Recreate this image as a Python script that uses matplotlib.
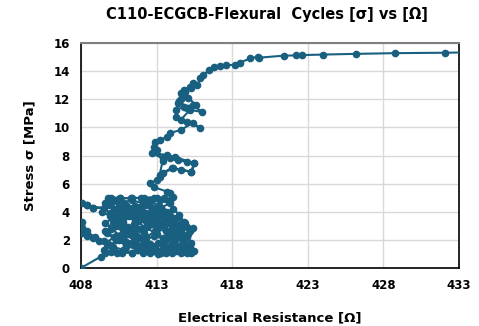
import matplotlib.pyplot as plt

# values, in drawing order
# low-stress cycles (0-5 MPa)
cluster_x = [
    408.0, 409.3, 409.6, 410.2, 409.8, 409.2, 408.8, 408.4, 408.1, 408.05,
    408.1, 408.4, 408.9, 409.5, 410.1, 410.8, 411.4, 412.0, 412.6, 413.3,
    414.0, 414.6, 415.3, 414.8, 414.2, 413.6, 413.0, 412.3, 411.6, 410.9,
    410.2, 409.6, 410.0, 410.6, 411.3, 412.0, 412.8, 413.5, 413.8, 414.1,
    414.5, 414.8, 415.0, 415.4, 415.1, 414.6, 414.0, 413.4, 412.8, 412.1,
    411.4, 410.7, 410.0, 409.5, 409.7, 410.3, 410.9, 411.5, 412.1, 412.7,
    413.3, 413.9, 413.2, 412.4, 411.6, 410.8, 410.6, 408.8, 408.4, 408.05,
    408.4, 408.8, 410.6, 410.3, 410.9, 411.5, 412.1, 412.7, 413.4, 414.0,
    414.5, 414.9, 414.4, 413.8, 413.1, 412.5, 411.9, 411.2, 410.5, 409.9,
    410.4, 411.0, 411.6, 412.3, 412.9, 413.5, 414.1, 414.7, 414.3, 413.7,
    413.1, 412.4, 411.8, 411.1, 410.6, 410.0, 409.6, 410.2, 410.8, 411.4,
    412.0, 412.6, 413.2, 413.7, 414.2, 414.6, 415.0, 415.3, 414.9, 414.3,
    413.6, 412.9, 412.3, 411.7, 411.1, 410.5, 409.9, 409.5, 410.0, 410.7,
    411.4, 412.1, 412.7, 413.2, 413.6, 414.0, 414.4, 414.8, 415.2, 415.5,
    415.0, 414.4, 413.9, 413.4, 412.9, 412.3, 411.7, 411.0, 410.4, 409.9,
    410.5, 411.1, 411.8, 412.4, 413.0, 413.6, 414.2, 413.8, 413.2, 412.6,
    412.0, 411.3, 410.7, 410.1, 409.7, 410.3, 411.0, 411.7, 412.2, 412.8,
    413.4, 414.0, 414.6, 414.2, 413.6, 413.0, 412.5, 411.9, 411.2, 410.6,
    410.9, 411.6, 412.3, 413.0, 413.7, 414.3, 413.9, 413.4, 412.8, 412.2,
    411.5, 410.8, 410.3, 410.9, 411.5, 412.2, 412.9, 413.5, 414.1, 413.7,
    413.0, 412.2, 411.4, 410.6, 409.8, 409.4, 409.9, 410.5, 411.2, 411.9,
    412.6, 413.3, 414.0, 414.7, 415.2, 414.6, 413.9, 413.1, 412.4, 411.7,
    410.9, 410.2, 409.6, 410.1, 410.8, 411.5, 412.2, 412.9, 413.5, 413.0,
    413.1, 412.6,
]
cluster_y = [
    0.0, 0.8, 1.1, 1.3, 1.6, 1.9, 2.1, 2.3, 2.5, 2.8,
    3.3, 2.6, 2.2, 1.9, 1.5, 1.3, 1.1, 1.4, 1.1, 1.05,
    1.1, 1.05, 1.05, 1.3, 1.6, 2.0, 2.4, 2.9, 3.3, 3.8,
    4.2, 4.6, 5.0, 5.0, 4.95, 5.0, 5.0, 4.95, 4.7, 4.2,
    3.8, 3.3, 2.9, 2.85, 2.4, 2.1, 1.7, 1.4, 1.2, 1.05,
    1.1, 1.05, 1.15, 1.3, 1.8, 2.3, 2.7, 3.1, 3.5, 3.9,
    4.3, 4.6, 4.8, 4.6, 4.4, 4.3, 4.25, 4.3, 4.5, 4.6,
    4.5, 4.3, 4.25, 3.0, 2.4, 2.0, 1.6, 1.4, 1.8, 2.3,
    2.8, 3.2, 3.6, 3.9, 3.6, 3.2, 2.8, 2.4, 2.0, 1.6,
    1.1, 1.5, 1.8, 2.2, 2.6, 3.0, 3.4, 3.0, 2.5, 2.2,
    1.8, 1.5, 1.3, 1.8, 2.3, 2.8, 3.2, 3.6, 3.3, 3.7,
    4.1, 4.4, 4.1, 3.5, 3.0, 2.6, 2.2, 1.8, 1.5, 1.2,
    1.05, 1.5, 1.9, 2.3, 2.9, 3.5, 3.9, 4.3, 4.6, 4.7,
    4.8, 4.6, 4.2, 3.8, 3.4, 2.9, 2.4, 1.9, 1.5, 1.2,
    1.05, 1.5, 2.6, 3.2, 3.6, 3.9, 4.2, 4.5, 4.8, 4.9,
    4.4, 4.0, 3.6, 3.0, 2.8, 2.6, 2.0, 1.5, 1.2, 1.7,
    2.1, 2.6, 3.1, 3.4, 2.5, 2.0, 1.6, 1.3, 1.9, 2.3,
    2.1, 2.7, 3.1, 3.5, 3.9, 4.3, 4.6, 4.1, 3.7, 3.2,
    2.7, 3.0, 3.4, 3.8, 3.2, 2.6, 2.2, 1.7, 1.4, 1.9,
    2.4, 2.9, 3.3, 3.7, 4.1, 4.5, 4.2, 3.8, 3.3, 4.0,
    4.97, 5.0, 4.97, 4.95, 5.0, 4.0, 3.7, 3.9, 4.3, 3.9,
    3.5, 3.1, 2.5, 2.3, 2.6, 1.6, 1.3, 1.0, 1.2, 1.6,
    1.9, 2.2, 2.6, 2.9, 3.1, 2.7, 2.5, 3.1, 3.7, 4.3,
    4.4, 4.8,
]

# climb from 5 MPa to the plateau
rise_x = [
    413.9, 414.1, 413.9, 413.7, 412.8, 412.6, 413.0, 413.2,
    413.4, 414.0, 414.6, 415.3, 415.5, 415.0, 414.4, 413.9,
    413.7, 412.7, 413.4, 414.2, 415.5, 415.3, 414.1, 413.2,
    413.4, 413.0, 412.8, 412.9, 413.2, 413.7, 413.9, 414.6,
    415.4, 415.9, 415.0, 414.3, 414.6, 415.2, 416.0, 415.4,
    414.8, 414.3, 414.4, 414.6, 414.6, 414.8, 415.2, 415.4,
    414.9, 414.5, 415.0, 415.6, 415.1, 414.7, 415.3, 415.7,
    415.9, 416.1, 416.5, 416.8, 417.2, 417.6, 418.2, 418.5,
    419.2, 419.7,
]
rise_y = [
    4.84, 5.05, 5.33, 5.43, 5.76, 6.05, 6.26, 6.47,
    6.76, 7.11, 6.97, 6.85, 7.45, 7.54, 7.68, 7.82,
    8.04, 8.16, 7.8, 7.9, 7.45, 6.85, 7.1, 6.6,
    7.6, 8.39, 8.61, 8.96, 9.10, 9.32, 9.60, 9.82,
    10.31, 9.96, 10.38, 10.74, 10.53, 11.24, 11.10, 11.59,
    11.47, 11.24, 11.71, 12.0, 12.42, 12.66, 12.90, 13.16,
    12.5, 11.9, 11.4, 11.6, 12.1, 12.3, 12.8, 13.0,
    13.49, 13.73, 14.08, 14.32, 14.35, 14.44, 14.44, 14.60,
    14.91, 15.03,
]

# plateau tail
tail_x = [419.8, 421.4, 422.2, 422.6, 424.0, 426.2, 428.8, 432.1, 435.0]
tail_y = [14.96, 15.10, 15.12, 15.14, 15.18, 15.23, 15.28, 15.31, 15.36]

resistance = cluster_x + rise_x + tail_x
stress = cluster_y + rise_y + tail_y

x_ticks = [408, 413, 418, 423, 428, 433]
y_ticks = [0, 2, 4, 6, 8, 10, 12, 14, 16]

line_color = '#195F80'

fig = plt.figure(figsize=(4.79, 3.26), dpi=100)
ax = fig.add_axes([0.169, 0.178, 0.789, 0.69])

ax.plot(resistance, stress, color=line_color, linewidth=1.5,
        marker='o', markersize=5.5, markeredgewidth=0, zorder=3)

ax.set_xlim(408, 433)
ax.set_ylim(0, 16)
ax.set_xticks(x_ticks)
ax.set_yticks(y_ticks)
ax.grid(True, color='#d9d9d9', linewidth=1.0, zorder=0)
ax.set_axisbelow(True)
ax.tick_params(length=0, labelsize=8.5, pad=8)
for lab in ax.get_xticklabels() + ax.get_yticklabels():
    lab.set_fontweight('bold')

for side in ['left', 'bottom', 'right']:
    ax.spines[side].set_color('black')
    ax.spines[side].set_linewidth(1.2)
ax.spines['top'].set_color('#7f7f7f')
ax.spines['top'].set_linewidth(1.5)

ax.set_xlabel('Electrical Resistance [Ω]', fontsize=9.5, fontweight='bold', labelpad=14)
ax.set_ylabel('Stress σ [MPa]', fontsize=9.5, fontweight='bold', labelpad=12)
fig.text(0.557, 0.957, 'C110-ECGCB-Flexural  Cycles [σ] vs [Ω]', ha='center', va='center',
         fontsize=10.5, fontweight='bold')

fig.savefig('out.png', dpi=100)
